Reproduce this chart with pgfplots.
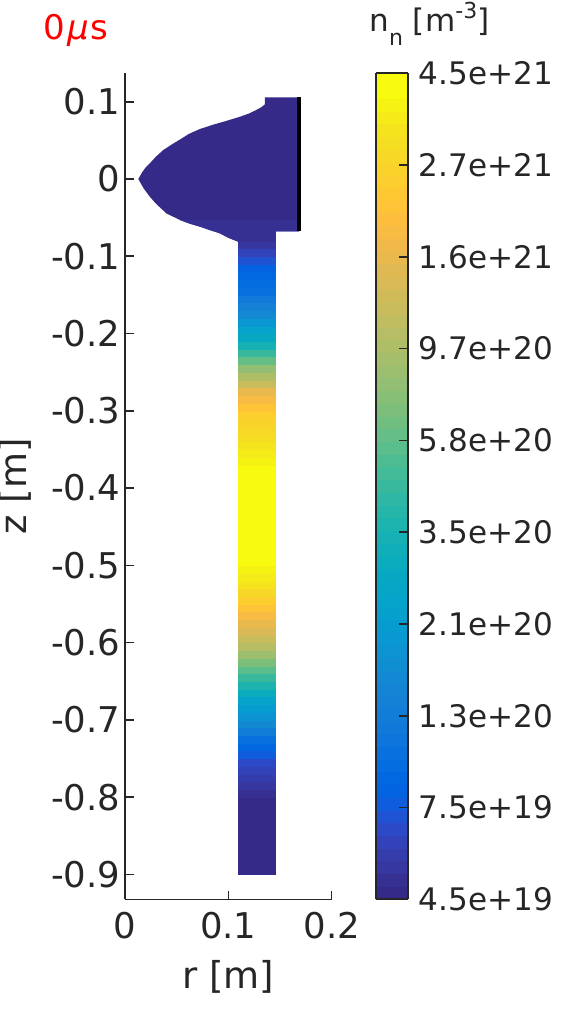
\documentclass[border=0pt]{standalone}
\usepackage{pgfplots}
\pgfplotsset{compat=1.18}
\usepackage{fontspec}
\setmainfont{DejaVu Sans}
\definecolor{mgray}{rgb}{0.15,0.15,0.15}
\definecolor{pc0}{rgb}{0.2081,0.1663,0.5292}
\definecolor{pc1}{rgb}{0.2116,0.1898,0.5777}
\pgfplotsset{colormap={parula}{
rgb=(0.2081,0.1663,0.5292) rgb=(0.2116,0.1898,0.5777) rgb=(0.2123,0.2138,0.6270) rgb=(0.2081,0.2386,0.6771)
rgb=(0.1959,0.2645,0.7279) rgb=(0.1707,0.2919,0.7792) rgb=(0.1253,0.3242,0.8303) rgb=(0.0591,0.3598,0.8683)
rgb=(0.0117,0.3875,0.8820) rgb=(0.0060,0.4086,0.8828) rgb=(0.0165,0.4266,0.8786) rgb=(0.0329,0.4430,0.8720)
rgb=(0.0498,0.4586,0.8641) rgb=(0.0629,0.4737,0.8554) rgb=(0.0723,0.4887,0.8467) rgb=(0.0779,0.5040,0.8384)
rgb=(0.0793,0.5200,0.8312) rgb=(0.0749,0.5375,0.8263) rgb=(0.0641,0.5570,0.8240) rgb=(0.0488,0.5772,0.8228)
rgb=(0.0343,0.5966,0.8199) rgb=(0.0265,0.6137,0.8135) rgb=(0.0239,0.6287,0.8038) rgb=(0.0231,0.6418,0.7913)
rgb=(0.0228,0.6535,0.7768) rgb=(0.0267,0.6642,0.7607) rgb=(0.0384,0.6743,0.7436) rgb=(0.0590,0.6838,0.7254)
rgb=(0.0843,0.6928,0.7062) rgb=(0.1133,0.7015,0.6859) rgb=(0.1453,0.7098,0.6646) rgb=(0.1801,0.7177,0.6424)
rgb=(0.2178,0.7250,0.6193) rgb=(0.2586,0.7317,0.5954) rgb=(0.3022,0.7376,0.5712) rgb=(0.3482,0.7424,0.5473)
rgb=(0.3953,0.7459,0.5244) rgb=(0.4420,0.7481,0.5033) rgb=(0.4871,0.7491,0.4840) rgb=(0.5300,0.7491,0.4661)
rgb=(0.5709,0.7485,0.4494) rgb=(0.6099,0.7473,0.4337) rgb=(0.6473,0.7456,0.4188) rgb=(0.6834,0.7435,0.4044)
rgb=(0.7184,0.7411,0.3905) rgb=(0.7525,0.7384,0.3768) rgb=(0.7858,0.7356,0.3633) rgb=(0.8185,0.7327,0.3498)
rgb=(0.8507,0.7299,0.3360) rgb=(0.8824,0.7274,0.3217) rgb=(0.9139,0.7258,0.3063) rgb=(0.9450,0.7261,0.2886)
rgb=(0.9739,0.7314,0.2666) rgb=(0.9938,0.7455,0.2403) rgb=(0.9990,0.7653,0.2164) rgb=(0.9955,0.7861,0.1967)
rgb=(0.9880,0.8066,0.1794) rgb=(0.9789,0.8271,0.1633) rgb=(0.9697,0.8481,0.1475) rgb=(0.9626,0.8705,0.1309)
rgb=(0.9589,0.8949,0.1132) rgb=(0.9598,0.9218,0.0948) rgb=(0.9661,0.9514,0.0755) rgb=(0.9763,0.9831,0.0538)
rgb=(0.9763,0.9831,0.0538)}}
\begin{document}
\begin{tikzpicture}
\path[use as bounding box] (0,0) rectangle (420.75pt,757.5pt);
\begin{axis}[
  at={(93.75pt,83pt)}, anchor=south west,
  scale only axis, width=155pt, height=619.5pt,
  xmin=0, xmax=0.2, ymin=-0.9323, ymax=0.1368,
  axis lines=left, axis line style={-, draw=mgray, line width=1.2pt},
  tick align=inside, major tick length=6.5pt,
  tick style={draw=mgray, line width=1.2pt},
  xtick={0,0.1,0.2}, xticklabels={0,0.1,0.2},
  ytick={-0.9,-0.8,-0.7,-0.6,-0.5,-0.4,-0.3,-0.2,-0.1,0,0.1},
  yticklabels={-0.9,-0.8,-0.7,-0.6,-0.5,-0.4,-0.3,-0.2,-0.1,0,0.1},
  ticklabel style={font=\fontsize{26.6}{31}\selectfont, text=mgray},
  xticklabel style={yshift=-6pt},
  xlabel={r [m]}, ylabel={z [m]},
  label style={font=\fontsize{27.75}{33}\selectfont, text=mgray},
  xlabel style={at={(axis description cs:0.5,0)}, anchor=base, yshift=-66.5pt},
  ylabel style={at={(axis description cs:-0.4755,0.5)}, anchor=base},
  title={0\kern1.2pt{\itshape μ}\kern1.2pt s},
  title style={at={(axis description cs:0,1)}, anchor=base west, inner sep=0pt,
    xshift=-61pt, yshift=19pt, text=red, font=\fontsize{25.5}{30}\selectfont},
  colormap name=parula, colormap access=piecewise constant,
  point meta min=19.65321, point meta max=21.65321,
  colorbar,
  colorbar style={
    at={(parent axis.south east)}, anchor=south west, xshift=25pt,
    scale only axis, width=23.75pt, height=619.5pt,
    axis line style={draw=mgray, line width=1.4pt},
    ytick={19.65321,19.87543,20.09765,20.31988,20.54210,20.76432,20.98654,21.20876,21.43099,21.65321},
    yticklabels={4.5e+19,7.5e+19,1.3e+20,2.1e+20,3.5e+20,5.8e+20,9.7e+20,1.6e+21,2.7e+21,4.5e+21},
    ytick pos=right, yticklabel pos=right, tick align=inside, major tick length=7pt,
    tick style={draw=mgray, line width=1.2pt},
    yticklabel style={font=\fontsize{23.3}{28}\selectfont, text=mgray, xshift=4.5pt},
    title={n\raisebox{-0.48em}{\fontsize{16.5}{18}\selectfont n} [m\raisebox{0.4em}{\fontsize{16.5}{18}\selectfont -3}]},
    title style={at={(axis description cs:0,1)}, anchor=base west, inner sep=0pt,
      xshift=-5.4pt, yshift=25.7pt, text=mgray, font=\fontsize{23.3}{28}\selectfont},
  },
]
% upper chamber (uniform minimum density)
\addplot[fill=pc0, draw=none] coordinates {
(0.0129,0) (0.0165,0.0085) (0.0200,0.0150) (0.0240,0.0203) (0.0300,0.0290) (0.0370,0.0375)
(0.0450,0.0445) (0.0530,0.0510) (0.0620,0.0585) (0.0726,0.0648) (0.0850,0.0702) (0.0980,0.0752)
(0.1110,0.0805) (0.1200,0.0848) (0.1270,0.0893) (0.1320,0.0930) (0.1353,0.0965) (0.1353,0.1058)
(0.1684,0.1058) (0.1684,-0.0677) (0.1095,-0.0677) (0.1095,-0.0811) (0.1000,-0.0760) (0.0918,-0.0703)
(0.0820,-0.0660) (0.0725,-0.0617) (0.0620,-0.0575) (0.0530,-0.0530) (0.0400,-0.0444) (0.0300,-0.0320)
(0.0240,-0.0229) (0.0180,-0.0120)} -- cycle;
\addplot[fill=pc1, draw=none] coordinates {
(0.0530,-0.0530) (0.1684,-0.0530) (0.1684,-0.0677) (0.1095,-0.0677) (0.1095,-0.0811) (0.1000,-0.0760)
(0.0918,-0.0703) (0.0820,-0.0660) (0.0725,-0.0617) (0.0620,-0.0575)} -- cycle;
% column
\addplot[surf, shader=flat mean, mesh/cols=2, point meta={log10(\thisrow{n})}]
table[x=r, y=z] {
r z n
0.1095 -0.90 4.5e19
0.1450 -0.90 4.5e19
0.1095 -0.89 4.5e19
0.1450 -0.89 4.5e19
0.1095 -0.88 4.5e19
0.1450 -0.88 4.5e19
0.1095 -0.87 4.5e19
0.1450 -0.87 4.5e19
0.1095 -0.86 4.5e19
0.1450 -0.86 4.5e19
0.1095 -0.85 4.5e19
0.1450 -0.85 4.5e19
0.1095 -0.84 4.5e19
0.1450 -0.84 4.5e19
0.1095 -0.83 4.5e19
0.1450 -0.83 4.5e19
0.1095 -0.82 4.5e19
0.1450 -0.82 4.5e19
0.1095 -0.81 4.5e19
0.1450 -0.81 4.5e19
0.1095 -0.80 4.84e19
0.1450 -0.80 4.84e19
0.1095 -0.79 5.21e19
0.1450 -0.79 5.21e19
0.1095 -0.78 5.6e19
0.1450 -0.78 5.6e19
0.1095 -0.77 6.03e19
0.1450 -0.77 6.03e19
0.1095 -0.76 6.48e19
0.1450 -0.76 6.48e19
0.1095 -0.75 6.97e19
0.1450 -0.75 6.97e19
0.1095 -0.74 8.07e19
0.1450 -0.74 8.07e19
0.1095 -0.73 9.35e19
0.1450 -0.73 9.35e19
0.1095 -0.72 1.164e20
0.1450 -0.72 1.164e20
0.1095 -0.71 1.449e20
0.1450 -0.71 1.449e20
0.1095 -0.70 1.678e20
0.1450 -0.70 1.678e20
0.1095 -0.69 1.942e20
0.1450 -0.69 1.942e20
0.1095 -0.68 2.248e20
0.1450 -0.68 2.248e20
0.1095 -0.67 2.6e20
0.1450 -0.67 2.6e20
0.1095 -0.66 3.24e20
0.1450 -0.66 3.24e20
0.1095 -0.65 4.04e20
0.1450 -0.65 4.04e20
0.1095 -0.64 5.03e20
0.1450 -0.64 5.03e20
0.1095 -0.63 6.26e20
0.1450 -0.63 6.26e20
0.1095 -0.62 7.8e20
0.1450 -0.62 7.8e20
0.1095 -0.61 9.71e20
0.1450 -0.61 9.71e20
0.1095 -0.60 1.124e21
0.1450 -0.60 1.124e21
0.1095 -0.59 1.301e21
0.1450 -0.59 1.301e21
0.1095 -0.58 1.506e21
0.1450 -0.58 1.506e21
0.1095 -0.57 1.743e21
0.1450 -0.57 1.743e21
0.1095 -0.56 2.018e21
0.1450 -0.56 2.018e21
0.1095 -0.55 2.336e21
0.1450 -0.55 2.336e21
0.1095 -0.54 2.705e21
0.1450 -0.54 2.705e21
0.1095 -0.53 3.13e21
0.1450 -0.53 3.13e21
0.1095 -0.52 3.37e21
0.1450 -0.52 3.37e21
0.1095 -0.51 3.63e21
0.1450 -0.51 3.63e21
0.1095 -0.50 3.9e21
0.1450 -0.50 3.9e21
0.1095 -0.49 4.2e21
0.1450 -0.49 4.2e21
0.1095 -0.48 4.2e21
0.1450 -0.48 4.2e21
0.1095 -0.47 4.5e21
0.1450 -0.47 4.5e21
0.1095 -0.46 4.5e21
0.1450 -0.46 4.5e21
0.1095 -0.45 4.5e21
0.1450 -0.45 4.5e21
0.1095 -0.44 4.5e21
0.1450 -0.44 4.5e21
0.1095 -0.43 4.5e21
0.1450 -0.43 4.5e21
0.1095 -0.42 4.5e21
0.1450 -0.42 4.5e21
0.1095 -0.41 4.5e21
0.1450 -0.41 4.5e21
0.1095 -0.40 4.5e21
0.1450 -0.40 4.5e21
0.1095 -0.39 4.2e21
0.1450 -0.39 4.2e21
0.1095 -0.38 4.2e21
0.1450 -0.38 4.2e21
0.1095 -0.37 3.9e21
0.1450 -0.37 3.9e21
0.1095 -0.36 3.63e21
0.1450 -0.36 3.63e21
0.1095 -0.35 3.37e21
0.1450 -0.35 3.37e21
0.1095 -0.34 3.13e21
0.1450 -0.34 3.13e21
0.1095 -0.33 2.91e21
0.1450 -0.33 2.91e21
0.1095 -0.32 2.705e21
0.1450 -0.32 2.705e21
0.1095 -0.31 2.514e21
0.1450 -0.31 2.514e21
0.1095 -0.30 2.336e21
0.1450 -0.30 2.336e21
0.1095 -0.29 2.018e21
0.1450 -0.29 2.018e21
0.1095 -0.28 1.743e21
0.1450 -0.28 1.743e21
0.1095 -0.27 1.4e21
0.1450 -0.27 1.4e21
0.1095 -0.26 1.124e21
0.1450 -0.26 1.124e21
0.1095 -0.25 9.03e20
0.1450 -0.25 9.03e20
0.1095 -0.24 6.74e20
0.1450 -0.24 6.74e20
0.1095 -0.23 5.03e20
0.1450 -0.23 5.03e20
0.1095 -0.22 4.04e20
0.1450 -0.22 4.04e20
0.1095 -0.21 3.01e20
0.1450 -0.21 3.01e20
0.1095 -0.20 2.6e20
0.1450 -0.20 2.6e20
0.1095 -0.19 2.089e20
0.1450 -0.19 2.089e20
0.1095 -0.18 1.678e20
0.1450 -0.18 1.678e20
0.1095 -0.17 1.449e20
0.1450 -0.17 1.449e20
0.1095 -0.16 1.252e20
0.1450 -0.16 1.252e20
0.1095 -0.15 1.082e20
0.1450 -0.15 1.082e20
0.1095 -0.14 1.006e20
0.1450 -0.14 1.006e20
0.1095 -0.13 9.35e19
0.1450 -0.13 9.35e19
0.1095 -0.12 8.69e19
0.1450 -0.12 8.69e19
0.1095 -0.11 7.5e19
0.1450 -0.11 7.5e19
0.1095 -0.10 6.48e19
0.1450 -0.10 6.48e19
0.1095 -0.09 5.6e19
0.1450 -0.09 5.6e19
0.1095 -0.08 5.21e19
0.1450 -0.08 5.21e19
0.1095 -0.0677 4.84e19
0.1450 -0.0677 4.84e19
};
% electrode wall
\addplot[black, line width=2.6pt] coordinates {(0.1684,0.1058) (0.1684,-0.0677)};
\end{axis}
\end{tikzpicture}
\end{document}
